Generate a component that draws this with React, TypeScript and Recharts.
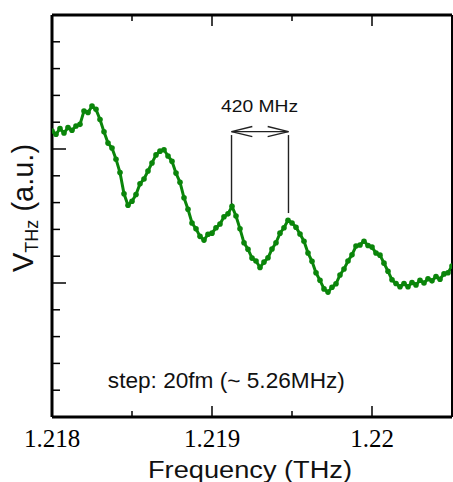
import { LineChart, Line, XAxis, YAxis, ReferenceLine, ReferenceDot } from 'recharts';

// frequency (THz), 25 MHz sampling
const FREQ = [
  1.218, 1.218025, 1.21805, 1.218075, 1.2181, 1.218125, 1.21815, 1.218175, 1.2182, 1.218225,
  1.21825, 1.218275, 1.2183, 1.218325, 1.21835, 1.218375, 1.2184, 1.218425, 1.21845, 1.218475,
  1.2185, 1.218525, 1.21855, 1.218575, 1.2186, 1.218625, 1.21865, 1.218675, 1.2187, 1.218725,
  1.21875, 1.218775, 1.2188, 1.218825, 1.21885, 1.218875, 1.2189, 1.218925, 1.21895, 1.218975,
  1.219, 1.219025, 1.21905, 1.219075, 1.2191, 1.219125, 1.21915, 1.219175, 1.2192, 1.219225,
  1.21925, 1.219275, 1.2193, 1.219325, 1.21935, 1.219375, 1.2194, 1.219425, 1.21945, 1.219475,
  1.2195, 1.219525, 1.21955, 1.219575, 1.2196, 1.219625, 1.21965, 1.219675, 1.2197, 1.219725,
  1.21975, 1.219775, 1.2198, 1.219825, 1.21985, 1.219875, 1.2199, 1.219925, 1.21995, 1.219975,
  1.22, 1.220025, 1.22005, 1.220075, 1.2201, 1.220125, 1.22015, 1.220175, 1.2202, 1.220225,
  1.22025, 1.220275, 1.2203, 1.220325, 1.22035, 1.220375, 1.2204, 1.220425, 1.22045, 1.220475,
  1.2205,
];

// V_THz in arbitrary units
const VTHZ = [
  10.67, 10.55, 10.76, 10.6, 10.8, 10.7, 10.86, 10.92, 11.42, 11.36,
  11.6, 11.48, 11.1, 10.64, 10.22, 10.04, 9.62, 9.12, 8.33, 7.9,
  8.05, 8.3, 8.7, 8.88, 9.18, 9.48, 9.78, 9.92, 9.97, 9.74,
  9.54, 9.1, 8.76, 8.18, 7.75, 7.24, 7.02, 6.74, 6.6, 6.82,
  6.86, 7.06, 7.2, 7.47, 7.58, 7.86, 7.5, 7.02, 6.5, 6.26,
  5.93, 5.82, 5.58, 5.78, 5.94, 6.27, 6.5, 6.86, 7.06, 7.34,
  7.24, 7.08, 6.83, 6.56, 6.12, 5.81, 5.38, 5.1, 4.78, 4.66,
  4.84, 4.97, 5.3, 5.52, 5.82, 6.05, 6.38, 6.42, 6.56, 6.4,
  6.34, 6.12, 6.04, 5.74, 5.44, 5.12, 4.98, 4.86, 4.98, 4.86,
  5.02, 4.93, 5.1, 5.0, 5.16, 5.08, 5.24, 5.14, 5.34, 5.38,
  5.63,
];

const X_TICKS = [1.218, 1.2185, 1.219, 1.2195, 1.22];
const Y_TICKS = [0, 1, 2, 3, 4, 5, 6, 7, 8, 9, 10, 11, 12, 13, 14, 15];

// 420 MHz spacing annotation (data coords)
const PEAK_A = 1.219122;
const PEAK_B = 1.219478;
const MARK_TOP = 10.52;
const MARK_A_BOTTOM = 7.91;
const MARK_B_BOTTOM = 7.61;
const ARROW_Y = 10.65;
const HEAD_DX = 0.00013;
const HEAD_DY = 0.19;
const SPACING_LABEL = { x: 1.219297, y: 11.38, text: '420 MHz' };
const STEP_LABEL = { x: 1.218349, y: 1.08, text: 'step: 20fm  (~ 5.26MHz)' };

const data = FREQ.map((f, i) => ({ f, v: VTHZ[i] }));

const GREEN = '#0a850a';
const SANS = '"Liberation Sans", Arial, sans-serif';
const SERIF = '"Liberation Serif", "Times New Roman", serif';

const isMajorX = (v: number) => Math.abs(v * 1000 - Math.round(v * 1000)) < 1e-6;

const BottomTick = (props: any) => {
  const { x, y, payload } = props;
  const major = isMajorX(payload.value);
  return (
    <g>
      <line x1={x} y1={y} x2={x} y2={y - (major ? 11 : 6)} stroke="#000" strokeWidth={1.5} />
      {major && (
        <text x={x} y={y + 30} textAnchor="middle" style={{ fontFamily: SERIF, fontSize: 25 }} fill="#000">
          {String(parseFloat(payload.value.toFixed(3)))}
        </text>
      )}
    </g>
  );
};

const TopTick = (props: any) => {
  const { x, y, payload } = props;
  const major = isMajorX(payload.value);
  return <line x1={x} y1={y} x2={x} y2={y + (major ? 11 : 6)} stroke="#000" strokeWidth={1.5} />;
};

const LeftTick = (props: any) => {
  const { x, y, payload } = props;
  const major = payload.value % 5 === 0;
  return <line x1={x} y1={y} x2={x + (major ? 14 : 8)} y2={y} stroke="#000" strokeWidth={1.5} />;
};

const RightTick = (props: any) => {
  const { x, y, payload } = props;
  const major = payload.value % 5 === 0;
  return <line x1={x} y1={y} x2={x - (major ? 10 : 6)} y2={y} stroke="#000" strokeWidth={1.5} />;
};

const textShape = (text: string, anchor: 'start' | 'middle', size: number, len: number) => (p: any) => (
  <text
    x={p.cx}
    y={p.cy}
    textAnchor={anchor}
    style={{ fontFamily: SANS, fontSize: size }}
    fill="#111"
    textLength={len}
    lengthAdjust="spacingAndGlyphs"
  >
    {text}
  </text>
);

export default function App() {
  const seg = { stroke: '#222', strokeWidth: 1.4, ifOverflow: 'visible' as const };
  return (
    <div style={{ position: 'absolute', left: 0, top: 0, width: 453, height: 482, background: '#fff' }}>
      <LineChart width={453} height={482} data={data} margin={{ top: 0, right: 0, left: 0, bottom: 0 }}>
        <XAxis
          dataKey="f"
          type="number"
          domain={[1.218, 1.2205]}
          ticks={X_TICKS}
          interval={0}
          height={65}
          tickSize={0}
          tickMargin={0}
          tick={<BottomTick />}
          axisLine={{ stroke: '#000', strokeWidth: 3 }}
          allowDataOverflow
        />
        <XAxis
          xAxisId="top"
          orientation="top"
          dataKey="f"
          type="number"
          domain={[1.218, 1.2205]}
          ticks={X_TICKS}
          interval={0}
          height={15}
          tickSize={0}
          tickMargin={0}
          tick={<TopTick />}
          axisLine={{ stroke: '#000', strokeWidth: 3 }}
          allowDataOverflow
        />
        <YAxis
          type="number"
          domain={[0, 15]}
          ticks={Y_TICKS}
          interval={0}
          width={52}
          tickSize={0}
          tickMargin={0}
          tick={<LeftTick />}
          axisLine={{ stroke: '#000', strokeWidth: 3 }}
        />
        <YAxis
          yAxisId="right"
          orientation="right"
          type="number"
          domain={[0, 15]}
          ticks={Y_TICKS}
          interval={0}
          width={1}
          tickSize={0}
          tickMargin={0}
          tick={<RightTick />}
          axisLine={{ stroke: '#000', strokeWidth: 2 }}
        />
        <Line
          dataKey="v"
          type="linear"
          stroke={GREEN}
          strokeWidth={3}
          dot={{ r: 2.8, fill: GREEN, stroke: 'none' }}
          isAnimationActive={false}
        />
        <ReferenceLine segment={[{ x: PEAK_A, y: MARK_A_BOTTOM }, { x: PEAK_A, y: MARK_TOP }]} {...seg} />
        <ReferenceLine segment={[{ x: PEAK_B, y: MARK_B_BOTTOM }, { x: PEAK_B, y: MARK_TOP }]} {...seg} />
        <ReferenceLine segment={[{ x: PEAK_A, y: ARROW_Y }, { x: PEAK_B, y: ARROW_Y }]} {...seg} />
        <ReferenceLine segment={[{ x: PEAK_A, y: ARROW_Y }, { x: PEAK_A + HEAD_DX, y: ARROW_Y + HEAD_DY }]} {...seg} />
        <ReferenceLine segment={[{ x: PEAK_A, y: ARROW_Y }, { x: PEAK_A + HEAD_DX, y: ARROW_Y - HEAD_DY }]} {...seg} />
        <ReferenceLine segment={[{ x: PEAK_B, y: ARROW_Y }, { x: PEAK_B - HEAD_DX, y: ARROW_Y + HEAD_DY }]} {...seg} />
        <ReferenceLine segment={[{ x: PEAK_B, y: ARROW_Y }, { x: PEAK_B - HEAD_DX, y: ARROW_Y - HEAD_DY }]} {...seg} />
        <ReferenceDot
          x={SPACING_LABEL.x}
          y={SPACING_LABEL.y}
          r={0}
          ifOverflow="visible"
          shape={textShape(SPACING_LABEL.text, 'middle', 17, 77)}
        />
        <ReferenceDot
          x={STEP_LABEL.x}
          y={STEP_LABEL.y}
          r={0}
          ifOverflow="visible"
          shape={textShape(STEP_LABEL.text, 'start', 21.5, 237)}
        />
      </LineChart>
      <svg width={453} height={482} style={{ position: 'absolute', left: 0, top: 0, pointerEvents: 'none' }}>
        <text x={250} y={478} textAnchor="middle" style={{ fontFamily: SANS, fontSize: 23 }} fill="#111" textLength={204} lengthAdjust="spacingAndGlyphs">
          Frequency (THz)
        </text>
        <text x={33} y={272} transform="rotate(-90 33 272)" style={{ fontFamily: SANS, fontSize: 29 }} fill="#111">
          V<tspan fontSize={18} dy={5}>THz</tspan>
          <tspan dy={-5}> (a.u.)</tspan>
        </text>
      </svg>
    </div>
  );
}
